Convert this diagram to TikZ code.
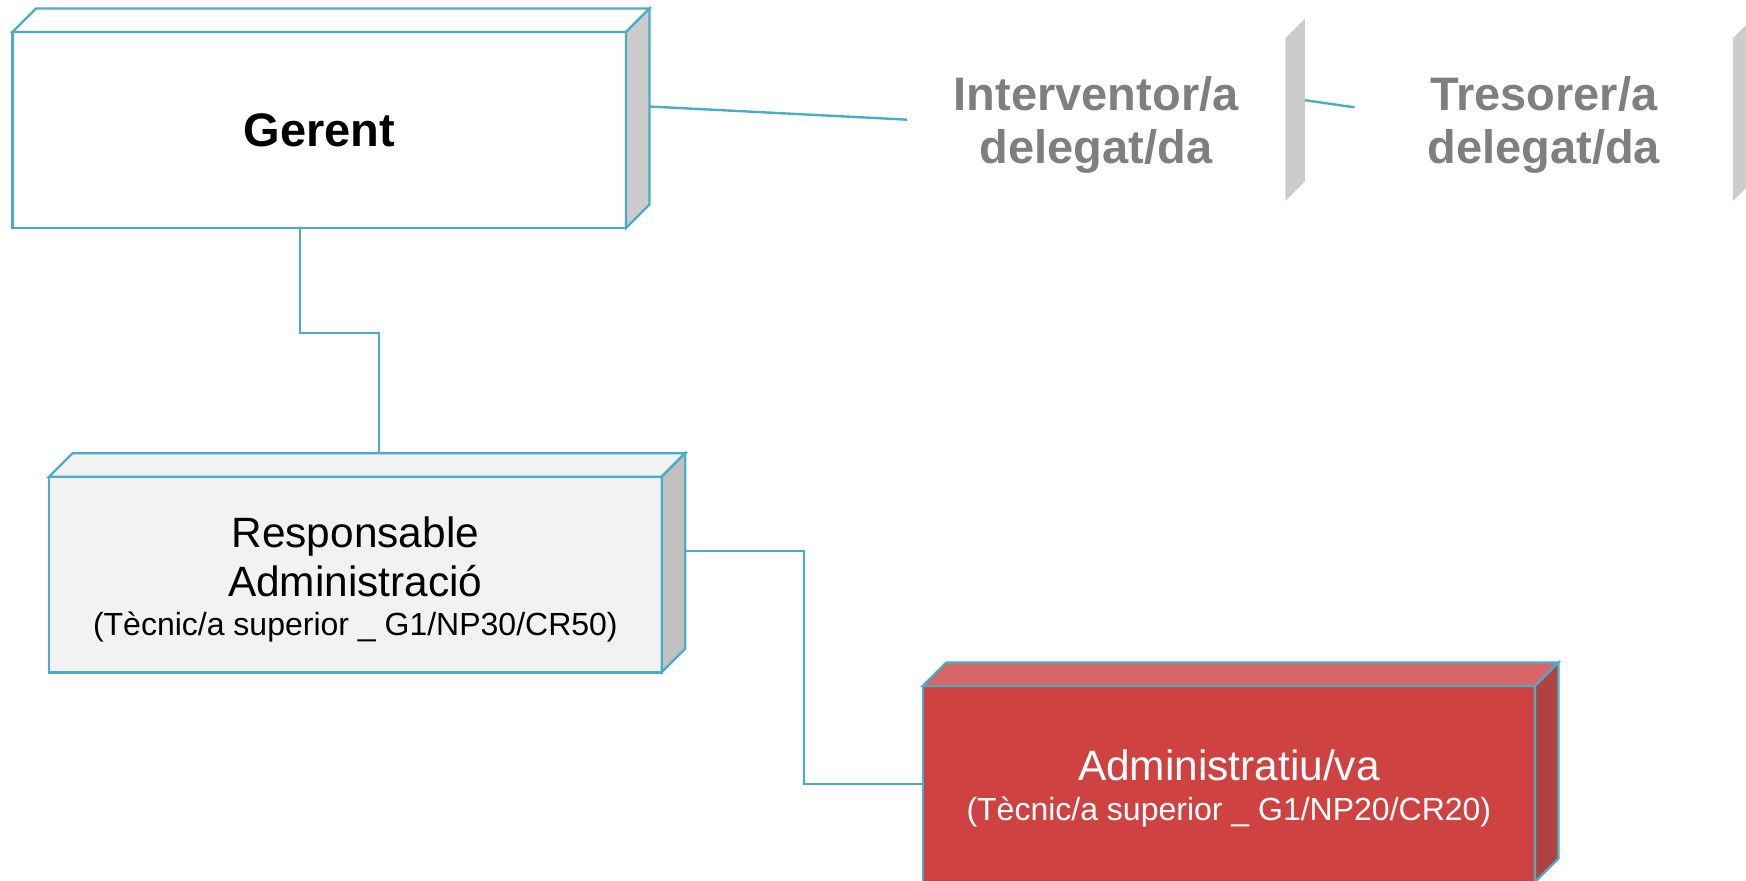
\documentclass[tikz,border=0pt]{standalone}
\usepackage{fontspec}
\setmainfont{Liberation Sans}
\usetikzlibrary{calc}
\definecolor{edge}{HTML}{4BACC6}
\definecolor{sidegray}{HTML}{CCCCCC}
\definecolor{respfront}{HTML}{F2F2F2}
\definecolor{resptop}{HTML}{F3F3F3}
\definecolor{respside}{HTML}{C0C0C0}
\definecolor{adminfront}{RGB}{207,66,66}
\definecolor{admintop}{RGB}{215,102,102}
\definecolor{adminside}{RGB}{176,66,66}
\definecolor{ghosttext}{HTML}{7F7F7F}
\begin{document}
\begin{tikzpicture}[x=0.5pt,y=-0.5pt,
  face/.style={draw=edge, line width=1.2pt, line join=miter},
  frontbox/.style={rectangle, face, inner sep=0pt, outer sep=0pt},
  ghostbox/.style={rectangle, inner sep=0pt, outer sep=0pt},
  conn/.style={draw=edge, line width=1.2pt},
  titletxt/.style={inner sep=0pt, anchor=base, text=ghosttext, font=\fontsize{23.5}{28}\selectfont\bfseries},
  maintxt/.style={inner sep=0pt, anchor=base, font=\fontsize{21.2}{25}\selectfont},
  subtxt/.style={inner sep=0pt, anchor=base, font=\fontsize{16}{19}\selectfont}]
\useasboundingbox (0,0) rectangle (1746,880);
\clip (0,0) rectangle (1746,880);

% Gerent
\node[frontbox, fill=white, minimum width=306.75pt, minimum height=98pt,
      font=\fontsize{23.5}{28}\selectfont\bfseries] (gerent) at (319.25,130) {Gerent};
\filldraw[face, fill=white] (gerent.north west) -- ++(23.5,-23.5) -- ($(gerent.north east)+(23.5,-23.5)$) -- (gerent.north east) -- cycle;
\filldraw[face, fill=sidegray] (gerent.north east) -- ++(23.5,-23.5) -- ($(gerent.south east)+(23.5,-23.5)$) -- (gerent.south east) -- cycle;

% Interventor (ghost)
\node[ghostbox, minimum width=189.15pt, minimum height=81.35pt] (interv) at (1096.15,119.65) {};
\fill[sidegray] (interv.north east) -- ++(19.5,-19.5) -- ($(interv.south east)+(19.5,-19.5)$) -- (interv.south east) -- cycle;
\node[titletxt] (intervT1) at (1096.15,110) {Interventor/a};
\node[titletxt] (intervT2) at (1096.15,163.3) {delegat/da};

% Tresorer (ghost)
\node[ghostbox, minimum width=189.15pt, minimum height=81.35pt] (tres) at (1543.7,119.65) {};
\fill[sidegray] (tres.north east) -- ++(19.5,-19.5) -- ($(tres.south east)+(19.5,-19.5)$) -- (tres.south east) -- cycle;
\node[titletxt] (tresT1) at (1543.7,110) {Tresorer/a};
\node[titletxt] (tresT2) at (1543.7,163.3) {delegat/da};

% Responsable
\node[frontbox, fill=respfront, minimum width=306.35pt, minimum height=97.8pt] (resp) at (355.35,574.5) {};
\filldraw[face, fill=resptop] (resp.north west) -- ++(23.5,-23.5) -- ($(resp.north east)+(23.5,-23.5)$) -- (resp.north east) -- cycle;
\filldraw[face, fill=respside] (resp.north east) -- ++(23.5,-23.5) -- ($(resp.south east)+(23.5,-23.5)$) -- (resp.south east) -- cycle;
\node[maintxt] (respT1) at (355.35,547) {Responsable};
\node[maintxt] (respT2) at (355.35,596) {Administració};
\node[subtxt] (respT3) at (355.35,635) {(Tècnic/a superior \_ G1/NP30/CR50)};

% Administratiu
\node[frontbox, fill=adminfront, minimum width=306.15pt, minimum height=98pt] (admin) at (1228.85,784) {};
\filldraw[face, fill=admintop] (admin.north west) -- ++(23.5,-23.5) -- ($(admin.north east)+(23.5,-23.5)$) -- (admin.north east) -- cycle;
\filldraw[face, fill=adminside] (admin.north east) -- ++(23.5,-23.5) -- ($(admin.south east)+(23.5,-23.5)$) -- (admin.south east) -- cycle;
\node[maintxt, text=white] (adminT1) at (1228.85,780.7) {Administratiu/va};
\node[subtxt, text=white] (adminT2) at (1228.85,820) {(Tècnic/a superior \_ G1/NP20/CR20)};

% Connectors
\draw[conn] ($(gerent.east)+(23.5,-23.5)$) -- (interv.west);
\draw[conn] ($(interv.east)+(19.5,-19.5)$) -- ($(tres.west)+(0,-12.3)$);
\draw[conn] ($(gerent.south)+(-19,0)$) -- ++(0,104.7) -| ($(resp.north)+(23.5,-23.5)$);
\coordinate (respR) at ($(resp.east)+(23.5,-23.5)$);
\draw[conn] (respR) -| ($(respR)!0.5!(admin.west)$) |- (admin.west);
\end{tikzpicture}
\end{document}
